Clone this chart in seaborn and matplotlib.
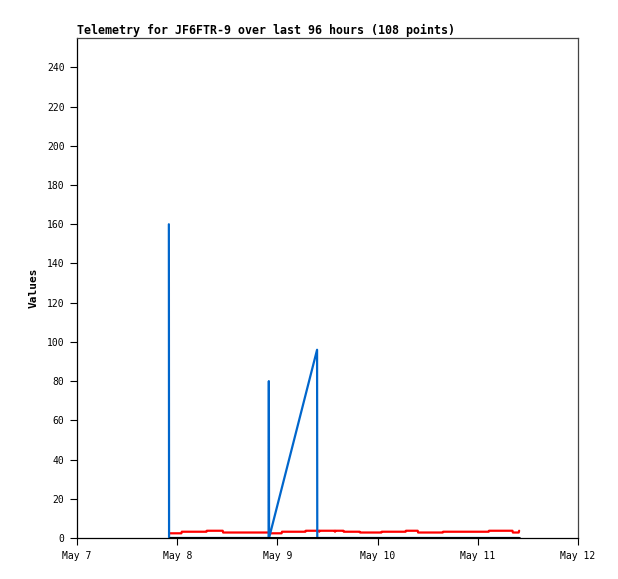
"""
Telemetry chart for JF6FTR-9 (last 96 hours).
"""

import matplotlib
matplotlib.use('Agg')
from matplotlib import pyplot as plt
from matplotlib import dates as mdates
import pandas as pd
import seaborn as sns

# Start of the time axis
START = pd.Timestamp('2024-05-07 00:00')

# Red channel: hours since START and values
red_hours = [22.3, 25.0, 25.1, 31.0, 31.1, 34.9, 35.0, 46.1, 46.2, 49.0, 49.1,
             54.7, 54.8, 57.9, 58.0, 58.1, 61.7, 61.8, 61.9, 63.8, 63.9, 67.7,
             67.8, 72.9, 73.0, 78.7, 78.8, 81.6, 81.7, 87.6, 87.7, 98.6, 98.7,
             104.3, 104.4, 105.8, 105.9]
red_values = [2.4, 2.4, 3.2, 3.2, 3.7, 3.7, 2.8, 2.8, 2.4, 2.4, 3.2,
              3.2, 3.7, 3.7, 3.2, 3.7, 3.7, 3.2, 3.7, 3.7, 3.2, 3.2,
              2.8, 2.8, 3.2, 3.2, 3.7, 3.7, 2.8, 2.8, 3.2, 3.2, 3.7,
              3.7, 2.8, 2.8, 3.7]

# Blue channel: spikes
blue_hours = [22.0, 22.05, 45.9, 45.95, 46.0, 57.5, 57.55, 105.9]
blue_values = [160, 0, 0, 80, 0, 96, 0, 0]

# Black channel: flat at zero
black_hours = [22.3, 105.9]
black_values = [0, 0]

# Axis settings
y_ticks = list(range(0, 241, 20))
y_max = 255
day_ticks = pd.date_range('2024-05-07', '2024-05-12', freq='D')


def to_frame(hours, values):
    """Builds a data frame with timestamps from hour offsets."""
    return pd.DataFrame({'time': [START + pd.Timedelta(hours=h) for h in hours],
                         'value': values})


sns.set_style('white')
plt.rcParams['font.family'] = ['DejaVu Sans Mono']
plt.rcParams['text.color'] = 'black'
plt.rcParams['axes.labelcolor'] = 'black'
plt.rcParams['xtick.color'] = 'black'
plt.rcParams['ytick.color'] = 'black'

fig = plt.figure(figsize=(6.18, 5.79), dpi=100)
ax = fig.add_axes([0.1246, 0.0708, 0.8107, 0.8636])

sns.lineplot(data=to_frame(red_hours, red_values), x='time', y='value', ax=ax,
             color='#ff0000', linewidth=1.6, estimator=None, sort=False, zorder=2)
sns.lineplot(data=to_frame(blue_hours, blue_values), x='time', y='value', ax=ax,
             color='#0066cc', linewidth=1.6, estimator=None, sort=False, zorder=3)
sns.lineplot(data=to_frame(black_hours, black_values), x='time', y='value', ax=ax,
             color='#000000', linewidth=2.2, estimator=None, sort=False, zorder=4)

# Axes limits and ticks
ax.set_xlim(day_ticks[0], day_ticks[-1])
ax.set_ylim(0, y_max)
ax.set_yticks(y_ticks)
ax.set_xticks(day_ticks)
ax.xaxis.set_major_formatter(mdates.DateFormatter('%b %-d'))
ax.tick_params(axis='both', direction='out', length=5, width=0.8,
               color='black', labelcolor='black', labelsize=7, pad=4,
               bottom=True, left=True, top=False, right=False)

# Spines
for side in ('left', 'bottom'):
    ax.spines[side].set_color('black')
    ax.spines[side].set_linewidth(0.9)
for side in ('top', 'right'):
    ax.spines[side].set_color('#444444')
    ax.spines[side].set_linewidth(0.9)

# Labels
ax.set_xlabel('')
ax.set_ylabel('Values', fontsize=8, fontweight='bold', labelpad=6,
              color='black')
ax.set_title('Telemetry for JF6FTR-9 over last 96 hours (108 points)',
             loc='left', fontsize=8.4, fontweight='bold', pad=3, color='black')

fig.savefig('out.png', dpi=100)
plt.close(fig)
